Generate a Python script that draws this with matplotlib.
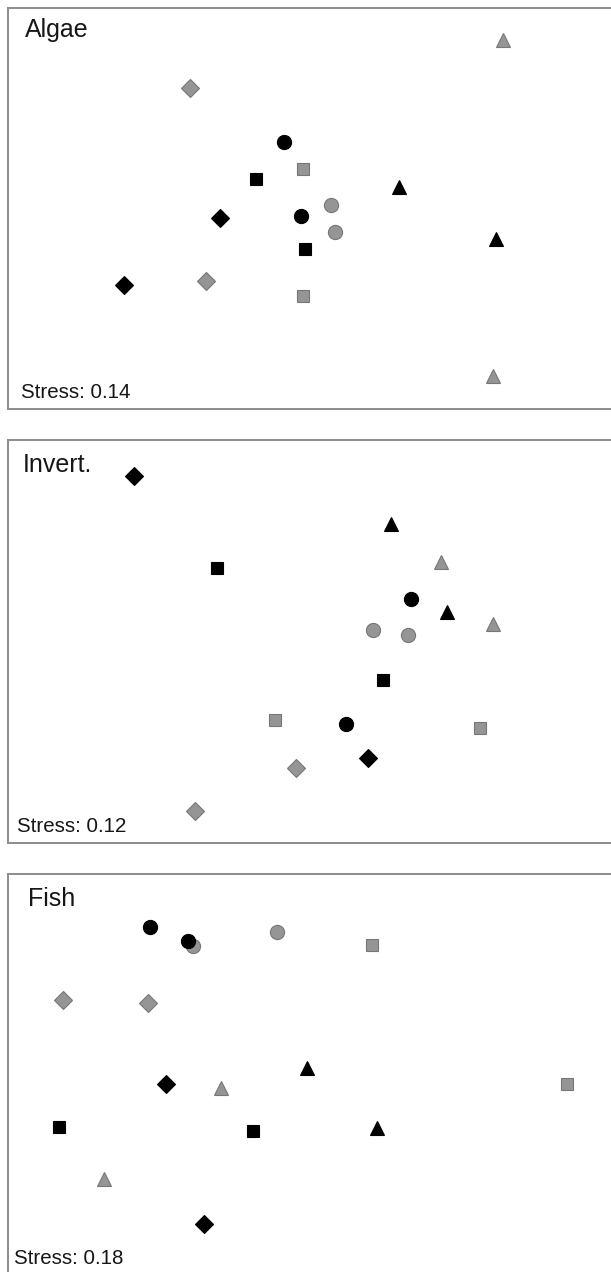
import matplotlib
matplotlib.use("Agg")
import matplotlib.pyplot as plt

plt.rcParams['font.family'] = ['Liberation Sans', 'DejaVu Sans']

W, H = 611, 1272

# Panel titles and stress values
titles = ["Algae", "Invert.", "Fish"]
stress = ["Stress: 0.14", "Stress: 0.12", "Stress: 0.18"]

# Point groups: shape + shade; coordinates are ordination positions
# (x increases to the right, y increases downward as drawn)
algae_kind = ["gD", "g^", "ko", "gs", "ks", "kD", "ko", "go", "go", "k^", "k^", "ks", "kD", "gD", "gs", "g^"]
algae_x = [190, 503, 284, 303, 256, 220, 301, 331, 335, 399, 496, 305, 124, 206, 303, 493]
algae_y = [88, 40, 142, 169, 179, 218, 216, 205, 232, 187, 239, 249, 285, 281, 296, 376]

invert_kind = ["kD", "k^", "ks", "g^", "ko", "k^", "go", "go", "g^", "ks", "gs", "ko", "gs", "kD", "gD", "gD"]
invert_x = [134, 391, 217, 441, 411, 447, 373, 408, 493, 383, 275, 346, 480, 368, 296, 195]
invert_y = [476, 524, 568, 562, 599, 612, 630, 635, 624, 680, 720, 724, 728, 758, 768, 811]

fish_kind = ["go", "ko", "go", "gs", "gD", "gD", "k^", "kD", "g^", "gs", "ks", "ks", "k^", "g^", "kD", "ko"]
fish_x = [193, 150, 277, 372, 63, 148, 307, 166, 221, 567, 59, 253, 377, 104, 204, 188]
fish_y = [946, 927, 932, 945, 1000, 1003, 1068, 1084, 1088, 1084, 1127, 1131, 1128, 1179, 1224, 941]

panels = [
    (algae_kind, algae_x, algae_y, (8, 409)),
    (invert_kind, invert_x, invert_y, (440, 843)),
    (fish_kind, fish_x, fish_y, (874, 1275)),
]

title_pos = [(25, 37), (23, 472), (28, 906)]
stress_pos = [(21, 398), (17, 832), (14, 1264)]

sizes = {"o": 10.2, "s": 8.8, "D": 9.0, "^": 10.0}
colors = {"k": ("#000000", "#000000"), "g": ("#959595", "#777777")}

fig = plt.figure(figsize=(W / 100, H / 100), dpi=100)

x_left, x_right = 8, 616
for i, (kind, xs, ys, (top, bot)) in enumerate(panels):
    ax = fig.add_axes([x_left / W, 1 - bot / H, (x_right - x_left) / W, (bot - top) / H])
    ax.set_xlim(x_left, x_right)
    ax.set_ylim(bot, top)
    ax.set_xticks([])
    ax.set_yticks([])
    for sp in ax.spines.values():
        sp.set_color("#8c8c8c")
        sp.set_linewidth(1.4)
    for k, x, y in zip(kind, xs, ys):
        c, m = k[0], k[1]
        fc, ec = colors[c]
        ax.plot([x], [y], marker=m, ms=sizes[m], mfc=fc, mec=ec, mew=0.8,
                linestyle="none", zorder=3 if c == "k" else 2)
    tx, ty = title_pos[i]
    ax.text(tx, ty, titles[i], fontsize=18, color="#161616", ha="left", va="baseline")
    sx, sy = stress_pos[i]
    ax.text(sx, sy, stress[i], fontsize=14.8, color="#161616", ha="left", va="baseline")

fig.savefig("out.png", dpi=100, facecolor="white")
